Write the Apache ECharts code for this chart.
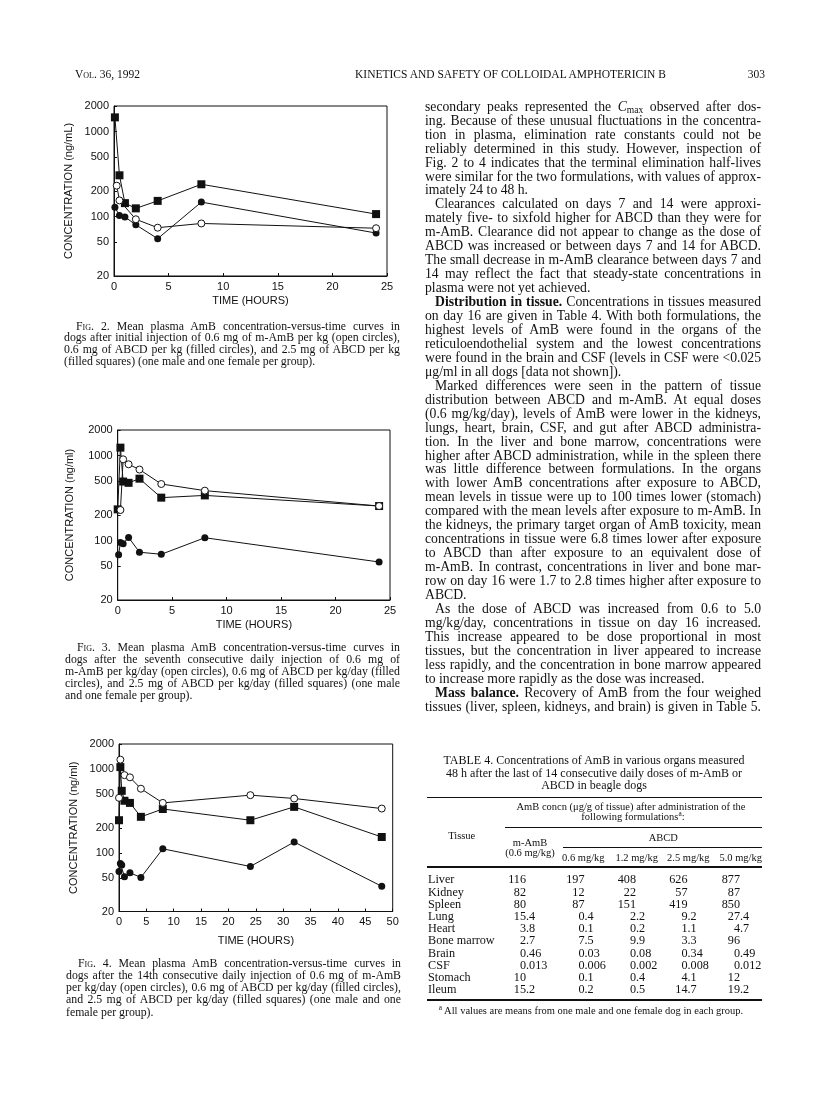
<!DOCTYPE html>
<html><head><meta charset="utf-8">
<script src="https://cdn.jsdelivr.net/npm/echarts@6/dist/echarts.min.js"></script>
<style>
html,body{margin:0;padding:0;background:#fff;}
#page{position:relative;width:816px;height:1094px;overflow:hidden;background:#fff;font-family:'Liberation Serif','Times New Roman',serif;color:#111;}
#chart{position:absolute;left:0;top:0;width:816px;height:1094px;}
.t{position:absolute;white-space:nowrap;line-height:1;}
.ln{position:absolute;white-space:nowrap;overflow:visible;}
.ln span{display:inline-block;white-space:nowrap;}
.rule{position:absolute;background:#111;}
.sc{font-variant:small-caps;}
sup{font-size:70%;line-height:0;vertical-align:0.45em;}
sub{font-size:70%;line-height:0;vertical-align:-0.25em;}
</style></head><body><div id="page"><div id="chart"></div></div>
<script>
// ---------------- chart data ----------------
const yTickValues = [20, 50, 100, 200, 500, 1000, 2000];
const xTickStep = 5;

// Fig. 2 (initial injection)
const fig2_mAmB_t   = [0.25, 0.5, 2, 4, 8, 24];
const fig2_mAmB_v   = [231, 155, 93, 74, 83, 73];
const fig2_abcd06_t = [0.083, 0.5, 1, 2, 4, 8, 24];
const fig2_abcd06_v = [129, 103, 99, 80, 55, 148, 64];
const fig2_abcd25_t = [0.083, 0.5, 1, 2, 4, 8, 24];
const fig2_abcd25_v = [1470, 306, 144, 125, 153, 240, 107];

// Fig. 3 (seventh daily injection)
const fig3_mAmB_t   = [0.25, 0.5, 1, 2, 4, 8, 24];
const fig3_mAmB_v   = [229, 904, 790, 685, 463, 387, 255];
const fig3_abcd06_t = [0.083, 0.25, 0.5, 1, 2, 4, 8, 24];
const fig3_abcd06_v = [68, 95, 92, 109, 73, 69, 108, 56];
const fig3_abcd25_t = [0, 0.25, 0.5, 1, 2, 4, 8, 24];
const fig3_abcd25_v = [233, 1240, 495, 478, 535, 320, 340, 255];

// Fig. 4 (14th daily injection)
const fig4_mAmB_t   = [0, 0.25, 1, 2, 4, 8, 24, 32, 48];
const fig4_mAmB_v   = [455, 1300, 850, 800, 585, 396, 490, 447, 339];
const fig4_abcd06_t = [0, 0.25, 0.5, 1, 2, 4, 8, 24, 32, 48];
const fig4_abcd06_v = [60, 75, 72, 52, 58, 51, 112, 69, 135, 40];
const fig4_abcd25_t = [0, 0.25, 0.5, 1, 2, 4, 8, 24, 32, 48];
const fig4_abcd25_v = [246, 1060, 552, 420, 396, 270, 335, 246, 355, 155];

// ---------------- table data ----------------
const tissues = ["Liver","Kidney","Spleen","Lung","Heart","Bone marrow","Brain","CSF","Stomach","Ileum"];
const col_mAmB06 = ["116","82","80","15.4","3.8","2.7","0.46","0.013","10","15.2"];
const col_abcd06 = ["197","12","87","0.4","0.1","7.5","0.03","0.006","0.1","0.2"];
const col_abcd12 = ["408","22","151","2.2","0.2","9.9","0.08","0.002","0.4","0.5"];
const col_abcd25 = ["626","57","419","9.2","1.1","3.3","0.34","0.008","4.1","14.7"];
const col_abcd50 = ["877","87","850","27.4","4.7","96","0.49","0.012","12","19.2"];
const doseHeads = ["0.6 mg/kg","1.2 mg/kg","2.5 mg/kg","5.0 mg/kg"];

// ---------------- chart ----------------
const SANS = "'Liberation Sans', Arial, Helvetica, sans-serif";
const INK = '#111';
const zip = (t, v) => t.map((x, i) => [x, v[i]]);
const figs = [
  {left:114, top:106, width:273, height:170, xMax:25, yName:'CONCENTRATION (ng/mL)', xGap:19, yGap:40,
   open:zip(fig2_mAmB_t,fig2_mAmB_v), fc:zip(fig2_abcd06_t,fig2_abcd06_v), sq:zip(fig2_abcd25_t,fig2_abcd25_v)},
  {left:117.7, top:430, width:272.3, height:170, xMax:25, yName:'CONCENTRATION (ng/ml)', xGap:19.5, yGap:42,
   open:zip(fig3_mAmB_t,fig3_mAmB_v), fc:zip(fig3_abcd06_t,fig3_abcd06_v), sq:zip(fig3_abcd25_t,fig3_abcd25_v)},
  {left:119, top:744, width:273.7, height:167.5, xMax:50, yName:'CONCENTRATION (ng/ml)', xGap:24, yGap:40,
   open:zip(fig4_mAmB_t,fig4_mAmB_v), fc:zip(fig4_abcd06_t,fig4_abcd06_v), sq:zip(fig4_abcd25_t,fig4_abcd25_v)}
];
const yTickLogs = yTickValues.map(v => Math.log10(v));
const txt = {color:INK, fontFamily:SANS, fontSize:11};
const option = {animation:false, backgroundColor:'transparent', grid:[], xAxis:[], yAxis:[], series:[]};
figs.forEach((f, i) => {
  option.grid.push({left:f.left, top:f.top, width:f.width, height:f.height, show:true,
    borderColor:INK, borderWidth:1, backgroundColor:'transparent', containLabel:false, outerBoundsMode:'none'});
  option.xAxis.push({gridIndex:i, type:'value', position:'bottom', min:0, max:f.xMax, interval:xTickStep,
    name:'TIME (HOURS)', nameLocation:'middle', nameGap:f.xGap, nameTextStyle:txt,
    axisLine:{show:true, onZero:false, lineStyle:{color:INK, width:1}},
    axisTick:{show:true, inside:true, length:3, lineStyle:{color:INK}},
    axisLabel:Object.assign({margin:5}, txt), splitLine:{show:false}});
  // data axis (log scale)
  option.yAxis.push({gridIndex:i, type:'log', logBase:10, position:'left', min:yTickValues[0], max:yTickValues[yTickValues.length-1],
    axisLine:{show:false}, axisTick:{show:false}, axisLabel:{show:false}, splitLine:{show:false}, minorTick:{show:false}});
  // label axis (same decades, labelled at 20, 50, 100 ...)
  option.yAxis.push({gridIndex:i, type:'value', position:'left', offset:0, min:yTickLogs[0], max:yTickLogs[yTickLogs.length-1],
    name:f.yName, nameLocation:'middle', nameGap:f.yGap, nameRotate:90, nameTextStyle:txt,
    axisLine:{show:true, onZero:false, lineStyle:{color:INK, width:1}},
    axisTick:{show:true, inside:true, length:3, customValues:yTickLogs, lineStyle:{color:INK}},
    axisLabel:Object.assign({margin:5, customValues:yTickLogs, formatter:v => String(Math.round(Math.pow(10, v)))}, txt),
    splitLine:{show:false}});
  const base = {type:'line', xAxisIndex:i, yAxisIndex:2*i, lineStyle:{color:INK, width:1}, emphasis:{disabled:true}};
  option.series.push(Object.assign({}, base, {name:'ABCD 2.5', data:f.sq, symbol:'rect', symbolSize:8,
    itemStyle:{color:INK, borderColor:INK, borderWidth:0}}));
  option.series.push(Object.assign({}, base, {name:'ABCD 0.6', data:f.fc, symbol:'circle', symbolSize:7,
    itemStyle:{color:INK, borderColor:INK, borderWidth:0}}));
  option.series.push(Object.assign({}, base, {name:'m-AmB 0.6', data:f.open, symbol:'circle', symbolSize:7, showAllSymbol:true,
    itemStyle:{color:'#fff', borderColor:INK, borderWidth:1}}));
});
const chart = echarts.init(document.getElementById('chart'), null, {renderer:'canvas'});
chart.setOption(option);

// ---------------- text ----------------
const page = document.getElementById('page');
function put(x, y, html, o) {
  o = o || {};
  const d = document.createElement('div');
  d.className = 't';
  d.innerHTML = html;
  d.style.fontSize = (o.size || 12) + 'px';
  if (o.font) d.style.fontFamily = o.font;
  d.style.left = x + 'px';
  d.style.top = y + 'px';
  const tx = o.align === 'right' ? '-100%' : o.align === 'center' ? '-50%' : '0';
  d.style.transform = 'translate(' + tx + ',-50%)';
  page.appendChild(d);
  return d;
}
const justifyJobs = [];
function block(lines, left, y0, step, width, size, indent) {
  lines.forEach((raw, i) => {
    let s = raw, ind = 0, end = false;
    if (s.startsWith('>')) { s = s.slice(1); ind = indent; }
    if (s.endsWith('|')) { s = s.slice(0, -1); end = true; }
    const d = document.createElement('div');
    d.className = 'ln';
    d.style.left = (left + ind) + 'px';
    d.style.top = (y0 + i * step - size * 0.6) + 'px';
    d.style.fontSize = size + 'px';
    d.style.lineHeight = (size * 1.2) + 'px';
    const sp = document.createElement('span');
    sp.innerHTML = s;
    d.appendChild(sp);
    page.appendChild(d);
    justifyJobs.push({sp, w: width - ind, end});
  });
}
function justifyAll() {
  justifyJobs.forEach(j => {
    j.sp.style.wordSpacing = '0px';
    const w = j.sp.getBoundingClientRect().width;
    const n = (j.sp.textContent.match(/ /g) || []).length;
    if (n > 0 && (!j.end || w > j.w)) j.sp.style.wordSpacing = ((j.w - w) / n) + 'px';
  });
}

// running head
put(75, 75, '<span class="sc">Vol.</span> 36, 1992', {size:11.5});
put(355, 75, 'KINETICS AND SAFETY OF COLLOIDAL AMPHOTERICIN B', {size:11.5});
put(765, 75, '303', {size:11.5, align:'right'});

// figure captions
block(['><span class="sc">Fig.</span> 2. Mean plasma AmB concentration-versus-time curves in',
  'dogs after initial injection of 0.6 mg of m-AmB per kg (open circles),',
  '0.6 mg of ABCD per kg (filled circles), and 2.5 mg of ABCD per kg',
  '(filled squares) (one male and one female per group).|'], 64, 325.7, 11.7, 336, 11.8, 12);
block(['><span class="sc">Fig.</span> 3. Mean plasma AmB concentration-versus-time curves in',
  'dogs after the seventh consecutive daily injection of 0.6 mg of',
  'm-AmB per kg/day (open circles), 0.6 mg of ABCD per kg/day (filled',
  'circles), and 2.5 mg of ABCD per kg/day (filled squares) (one male',
  'and one female per group).|'], 65, 646.7, 12.15, 335, 11.8, 12);
block(['><span class="sc">Fig.</span> 4. Mean plasma AmB concentration-versus-time curves in',
  'dogs after the 14th consecutive daily injection of 0.6 mg of m-AmB',
  'per kg/day (open circles), 0.6 mg of ABCD per kg/day (filled circles),',
  'and 2.5 mg of ABCD per kg/day (filled squares) (one male and one',
  'female per group).|'], 66, 962.7, 12.25, 335, 11.8, 12);

// right column body text
block([
 'secondary peaks represented the <i>C</i><sub>max</sub> observed after dos-',
 'ing. Because of these unusual fluctuations in the concentra-',
 'tion in plasma, elimination rate constants could not be',
 'reliably determined in this study. However, inspection of',
 'Fig. 2 to 4 indicates that the terminal elimination half-lives',
 'were similar for the two formulations, with values of approx-',
 'imately 24 to 48 h.|',
 '>Clearances calculated on days 7 and 14 were approxi-',
 'mately five- to sixfold higher for ABCD than they were for',
 'm-AmB. Clearance did not appear to change as the dose of',
 'ABCD was increased or between days 7 and 14 for ABCD.',
 'The small decrease in m-AmB clearance between days 7 and',
 '14 may reflect the fact that steady-state concentrations in',
 'plasma were not yet achieved.|',
 '><b>Distribution in tissue.</b> Concentrations in tissues measured',
 'on day 16 are given in Table 4. With both formulations, the',
 'highest levels of AmB were found in the organs of the',
 'reticuloendothelial system and the lowest concentrations',
 'were found in the brain and CSF (levels in CSF were &lt;0.025',
 '\u03bcg/ml in all dogs [data not shown]).|',
 '>Marked differences were seen in the pattern of tissue',
 'distribution between ABCD and m-AmB. At equal doses',
 '(0.6 mg/kg/day), levels of AmB were lower in the kidneys,',
 'lungs, heart, brain, CSF, and gut after ABCD administra-',
 'tion. In the liver and bone marrow, concentrations were',
 'higher after ABCD administration, while in the spleen there',
 'was little difference between formulations. In the organs',
 'with lower AmB concentrations after exposure to ABCD,',
 'mean levels in tissue were up to 100 times lower (stomach)',
 'compared with the mean levels after exposure to m-AmB. In',
 'the kidneys, the primary target organ of AmB toxicity, mean',
 'concentrations in tissue were 6.8 times lower after exposure',
 'to ABCD than after exposure to an equivalent dose of',
 'm-AmB. In contrast, concentrations in liver and bone mar-',
 'row on day 16 were 1.7 to 2.8 times higher after exposure to',
 'ABCD.|',
 '>As the dose of ABCD was increased from 0.6 to 5.0',
 'mg/kg/day, concentrations in tissue on day 16 increased.',
 'This increase appeared to be dose proportional in most',
 'tissues, but the concentration in liver appeared to increase',
 'less rapidly, and the concentration in bone marrow appeared',
 'to increase more rapidly as the dose was increased.|',
 '><b>Mass balance.</b> Recovery of AmB from the four weighed',
 'tissues (liver, spleen, kidneys, and brain) is given in Table 5.'
], 425, 107, 13.95, 336, 13.7, 10);

// table 4
put(594, 760, 'TABLE 4. Concentrations of AmB in various organs measured', {size:12, align:'center'});
put(594, 772.7, '48 h after the last of 14 consecutive daily doses of m-AmB or', {size:12, align:'center'});
put(594, 785.3, 'ABCD in beagle dogs', {size:12, align:'center'});
function rule(x1, x2, y, h) {
  const d = document.createElement('div');
  d.className = 'rule';
  d.style.left = x1 + 'px'; d.style.width = (x2 - x1) + 'px';
  d.style.top = (y - h / 2) + 'px'; d.style.height = h + 'px';
  page.appendChild(d);
}
rule(427, 762, 797.3, 1.4);
put(631, 806.7, 'AmB concn (\u03bcg/g of tissue) after administration of the', {size:10.5, align:'center'});
put(633, 817.3, 'following formulations<sup>a</sup>:', {size:10.5, align:'center'});
rule(505, 762, 827.3, 1);
put(461.7, 836, 'Tissue', {size:10.5, align:'center'});
put(530, 842.7, 'm-AmB', {size:10.5, align:'center'});
put(530, 853.3, '(0.6 mg/kg)', {size:10.5, align:'center'});
put(663.3, 838.3, 'ABCD', {size:10.5, align:'center'});
rule(563, 762, 847.7, 1);
const headCenters = [583.3, 636.7, 688.3, 740.7];
doseHeads.forEach((h, i) => put(headCenters[i], 857.7, h, {size:10.5, align:'center'}));
rule(427, 762, 866.7, 1.8);
const cols = [col_mAmB06, col_abcd06, col_abcd12, col_abcd25, col_abcd50];
const colAnchors = [526, 584.5, 636, 687.5, 740];
const rowY0 = 879.3, rowStep = 12.2;
tissues.forEach((name, r) => {
  const y = rowY0 + r * rowStep;
  put(428, y, name, {size:12.2});
  cols.forEach((col, c) => {
    const s = col[r];
    const k = s.indexOf('.');
    const ip = k < 0 ? s : s.slice(0, k);
    const fp = k < 0 ? '' : s.slice(k);
    put(colAnchors[c], y, ip, {size:12.2, align:'right'});
    if (fp) put(colAnchors[c], y, fp, {size:12.2});
  });
});
rule(427, 762, 1000, 1.8);
put(591, 1010.7, '<sup>a</sup> All values are means from one male and one female dog in each group.', {size:10.5, align:'center'});

justifyAll();
if (document.fonts && document.fonts.ready) document.fonts.ready.then(justifyAll);
</script></body></html>
